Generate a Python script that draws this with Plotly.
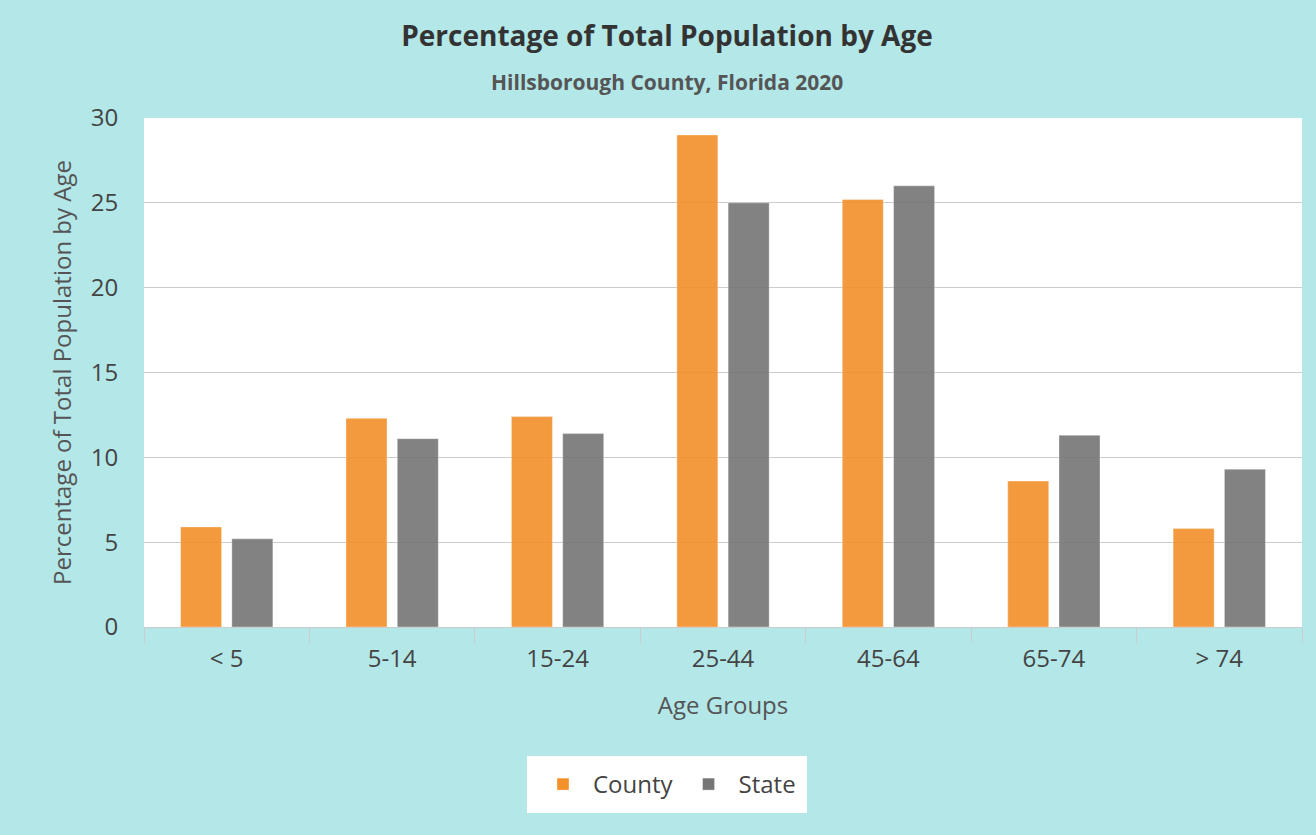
import plotly.graph_objects as go

categories = ["< 5", "5-14", "15-24", "25-44", "45-64", "65-74", "> 74"]
county = [5.9, 12.3, 12.4, 29.0, 25.2, 8.6, 5.8]
state = [5.2, 11.1, 11.4, 25.0, 26.0, 11.3, 9.3]
y_ticks = [0, 5, 10, 15, 20, 25, 30]

FONT = "Open Sans"
BG = "#B3E7E8"
W, H = 1316, 835
L, R, T, B = 144, 14, 118, 208
PH = H - T - B

fig = go.Figure()
fig.add_trace(go.Bar(name="County", x=categories, y=county,
                     marker=dict(color="#F2902A", opacity=0.9,
                                 line=dict(color="rgba(255,255,255,0.35)", width=1))))
fig.add_trace(go.Bar(name="State", x=categories, y=state,
                     marker=dict(color="#757575", opacity=0.9,
                                 line=dict(color="rgba(255,255,255,0.35)", width=1))))

fig.update_layout(
    width=W, height=H,
    paper_bgcolor=BG, plot_bgcolor="white",
    font=dict(family=FONT, color="#555555", size=24),
    margin=dict(l=L, r=R, t=T, b=B, autoexpand=False),
    barmode="group", bargap=0.38, bargroupgap=0.2,
    title=dict(
        text="<b>Percentage of Total Population by Age</b>",
        x=667 / W, xref="container", xanchor="center",
        y=1 - 36 / H, yref="container", yanchor="middle",
        font=dict(family=FONT, size=28, color="#333333"),
    ),
    annotations=[dict(
        text="<b>Hillsborough County, Florida 2020</b>",
        xref="paper", yref="paper",
        x=(667 - L) / (W - L - R), y=1 + (T - 82) / PH,
        xanchor="center", yanchor="middle", showarrow=False,
        font=dict(family=FONT, size=21, color="#555555"),
    )],
    showlegend=True,
    legend=dict(
        orientation="h", xref="container", yref="container",
        x=667 / W, xanchor="center", y=1 - 784.5 / H, yanchor="middle",
        bgcolor="white", bordercolor="white", borderwidth=6,
        font=dict(size=24, color="#444444"),
        itemwidth=50, traceorder="normal",
    ),
    xaxis=dict(
        showline=True, linecolor="#CCCCCC", linewidth=1,
        ticks="outside", ticklen=15, tickcolor="#CCCCCC", tickson="boundaries",
        ticklabelstandoff=10,
        showgrid=False,
        tickfont=dict(size=24, color="#444444"),
        title=dict(text="Age Groups", font=dict(size=24, color="#555555"), standoff=24),
        automargin=False,
    ),
    yaxis=dict(
        range=[0, 30], tickvals=y_ticks,
        showgrid=True, gridcolor="#CCCCCC", gridwidth=1,
        zeroline=False, showline=False,
        ticks="outside", ticklen=20, tickcolor="rgba(0,0,0,0)",
        tickfont=dict(size=24, color="#444444"),
        title=dict(text="Percentage of Total Population by Age",
                   font=dict(size=24, color="#555555"), standoff=12),
        automargin=False,
    ),
)

fig.write_html("out.html")
